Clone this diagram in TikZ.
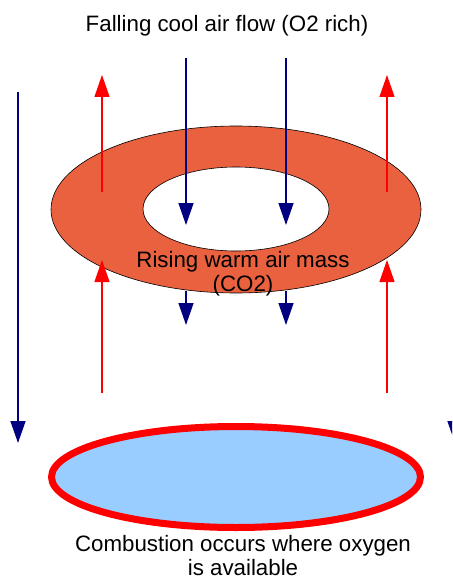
\documentclass[tikz,border=0pt]{standalone}
\usepackage{fontspec}
\setmainfont{Liberation Sans}
\usetikzlibrary{arrows.meta}

\definecolor{ringorange}{RGB}{233,97,63}
\definecolor{poolblue}{RGB}{153,204,255}
\definecolor{coolblue}{RGB}{0,0,128}

\begin{document}
\begin{tikzpicture}[
  x=1pt, y=-1pt,
  label/.style={align=center, font=\fontsize{22.3}{24}\selectfont, inner sep=0pt},
  coolarr/.style={-{Triangle[length=22pt, width=15pt]}, coolblue, line width=1.4pt},
  warmarr/.style={-{Triangle[length=22pt, width=15pt]}, red, line width=1.2pt}
]
  \useasboundingbox (0,0) rectangle (452,580);
  \clip (0,0) rectangle (452,580);

  % Ring of rising warm air
  \fill[ringorange, even odd rule, draw=black, line width=0.6pt]
    (236,209.5) ellipse [x radius=185pt, y radius=83.5pt]
    (236,209) ellipse [x radius=93pt, y radius=42pt];

  % Pool where combustion happens
  \draw[red, fill=poolblue, line width=7pt]
    (236,477) ellipse [x radius=184.5pt, y radius=50.5pt];

  % Texts
  \node[label] (title) at (227,26) {Falling cool air flow (O2 rich)};
  \node[label] (rising) at (243,274) {Rising warm air mass\\(CO2)};
  \node[label] (combust) at (243,556) {Combustion occurs where oxygen\\is available};

  % Falling cool air
  \foreach \x [count=\i] in {186,286} {
    \coordinate (ftop\i) at (\x,58);
    \coordinate (fmid\i) at (\x,225);
    \coordinate (flow\i) at (\x,291);
    \coordinate (fend\i) at (\x,325);
    \draw[coolarr] (ftop\i) -- (fmid\i);
    \draw[coolarr] (flow\i) -- (fend\i);
  }
  \coordinate (ltop) at (18,92);
  \coordinate (lend) at (18,443);
  \draw[coolarr] (ltop) -- (lend);
  \coordinate (rtop) at (455,92);
  \coordinate (rend) at (455,443);
  \draw[coolarr] (rtop) -- (rend);

  % Rising warm air
  \foreach \x [count=\i] in {102,387} {
    \coordinate (wlow\i) at (\x,393);
    \coordinate (wmid\i) at (\x,260);
    \coordinate (wstart\i) at (\x,192);
    \coordinate (wtop\i) at (\x,75);
    \draw[warmarr] (wlow\i) -- (wmid\i);
    \draw[warmarr] (wstart\i) -- (wtop\i);
  }
\end{tikzpicture}
\end{document}
